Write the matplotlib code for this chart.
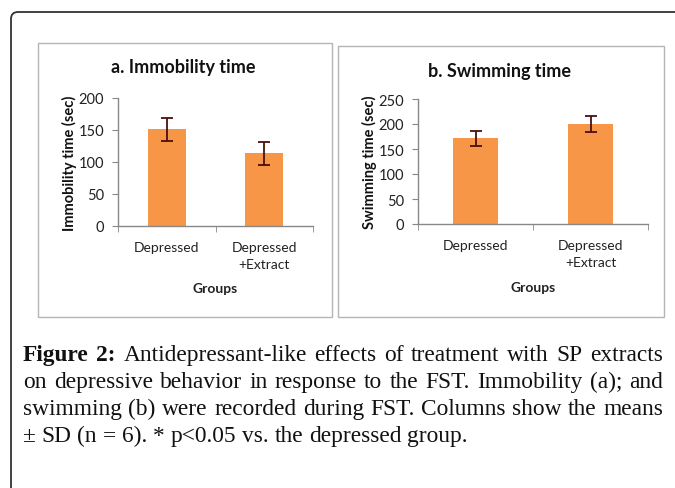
import matplotlib
matplotlib.use("Agg")
import matplotlib.pyplot as plt
from matplotlib.patches import Rectangle, FancyBboxPatch

# data
groups = ["Depressed", "Depressed\n+Extract"]
immobility_mean = [151, 114]
immobility_sd = [18, 18]
swimming_mean = [172, 200]
swimming_sd = [15, 16]

caption_lines = [
    [("Figure", True), ("2:", True), ("Antidepressant-like", False), ("effects", False),
     ("of", False), ("treatment", False), ("with", False), ("SP", False), ("extracts", False)],
    [(w, False) for w in "on depressive behavior in response to the FST. Immobility (a); and".split()],
    [(w, False) for w in "swimming (b) were recorded during FST. Columns show the means".split()],
    [(w, False) for w in "± SD (n = 6). * p<0.05 vs. the depressed group.".split()],
]

W, H = 675, 489
fig = plt.figure(figsize=(W / 100, H / 100), dpi=100)
SANS = "Lato"
SERIF = "Liberation Serif"


def fx(x):
    return x / W


def fy(y):
    return 1 - y / H


# outer rounded frame (runs off the right and bottom edges)
frame = FancyBboxPatch((11 / 100, -0.4), 7.5, (H - 13) / 100 + 0.4,
                       boxstyle="round,pad=0,rounding_size=0.07",
                       transform=fig.dpi_scale_trans, fill=False,
                       edgecolor="#333333", lw=1.3, clip_on=False)
fig.patches.append(frame)

# panel boxes
for (x0, y0, x1, y1) in [(38, 44, 332, 318), (338, 47, 664, 318)]:
    fig.patches.append(Rectangle((fx(x0), fy(y1)), fx(x1 - x0), (y1 - y0) / H,
                                 transform=fig.transFigure, fill=False,
                                 edgecolor="#b5b5b5", lw=1.0))


def rect_center_y(rect):
    return H * (1 - (rect[1] + rect[3] / 2))


def draw_panel(rect, means, sds, ymax, ystep, title, ylabel, title_xy, ylabel_x, groups_y):
    ax = fig.add_axes(rect)
    x = range(len(means))
    ax.bar(x, means, width=0.39, color="#F79646", zorder=2)
    ax.errorbar(x, means, yerr=sds, fmt="none", ecolor="#4a0f0f",
                elinewidth=1.3, capsize=4, capthick=1.3, zorder=3)
    ax.set_xlim(-0.5, len(means) - 0.5)
    ax.set_ylim(0, ymax)
    ax.set_yticks(range(0, ymax + 1, ystep))
    ax.set_xticks(list(x))
    ax.set_xticklabels(groups, fontsize=10, family=SANS, color="#222222", linespacing=1.5)
    ax.set_xticks([-0.5, 0.5, len(means) - 0.5], minor=True)
    ax.tick_params(axis="x", which="major", length=0, pad=11)
    ax.tick_params(axis="x", which="minor", length=4, color="#888888", direction="out")
    ax.tick_params(axis="y", length=4, color="#888888", direction="out", pad=6)
    for lab in ax.get_yticklabels():
        lab.set_fontsize(10.5)
        lab.set_family(SANS)
        lab.set_color("#222222")
    for s in ["top", "right"]:
        ax.spines[s].set_visible(False)
    for s in ["left", "bottom"]:
        ax.spines[s].set_color("#888888")
        ax.spines[s].set_linewidth(1.0)
    fig.text(fx(title_xy[0]), fy(title_xy[1]), title, ha="center", va="center",
             fontsize=13, fontweight="bold", family=SANS, color="#111111")
    fig.text(fx(ylabel_x), fy(rect_center_y(rect)), ylabel, ha="center", va="center",
             rotation=90, fontsize=10.5, fontweight="bold", family=SANS, color="#111111")
    fig.text(rect[0] + rect[2] / 2, fy(groups_y), "Groups", ha="center", va="center",
             fontsize=10, fontweight="bold", family=SANS, color="#222222")
    return ax


draw_panel([fx(118), fy(227), fx(313 - 118), (227 - 99) / H],
           immobility_mean, immobility_sd, 200, 50,
           "a. Immobility time", "Immobility time (sec)", (183, 68), 69, 289)
draw_panel([fx(418), fy(225), fx(648 - 418), (225 - 100) / H],
           swimming_mean, swimming_sd, 250, 50,
           "b. Swimming time", "Swimming time (sec)", (500, 71), 369, 288)

# caption, justified between left and right margins
CAP_SIZE = 16.8
left, right = 23, 663
baselines = [361, 388, 415, 442]
fig.canvas.draw()
renderer = fig.canvas.get_renderer()
for i, line in enumerate(caption_lines):
    texts = []
    widths = []
    for word, bold in line:
        t = fig.text(0, fy(baselines[i]), word, fontsize=CAP_SIZE, family=SERIF,
                     fontweight="bold" if bold else "normal", va="baseline", ha="left",
                     color="#111111")
        texts.append(t)
        widths.append(t.get_window_extent(renderer).width)
    if i < len(caption_lines) - 1:
        gap = (right - left - sum(widths)) / (len(line) - 1)
    else:
        space = fig.text(0, 0, "a a", fontsize=CAP_SIZE, family=SERIF)
        aa = fig.text(0, 0, "aa", fontsize=CAP_SIZE, family=SERIF)
        gap = space.get_window_extent(renderer).width - aa.get_window_extent(renderer).width
        space.remove()
        aa.remove()
    xpos = left
    for t, w in zip(texts, widths):
        t.set_x(fx(xpos))
        xpos += w + gap

fig.savefig("out.png", dpi=100)
